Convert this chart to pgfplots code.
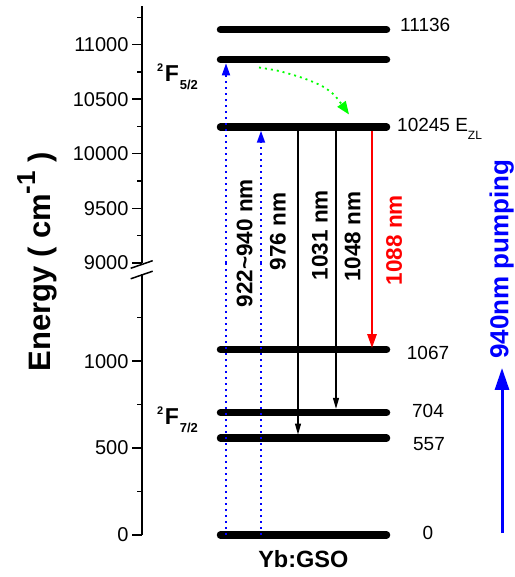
\documentclass[border=0pt]{standalone}
\usepackage{fontspec}
\setmainfont{Liberation Sans}
\usepackage{pgfplots}
\pgfplotsset{compat=1.18}
\usetikzlibrary{arrows.meta}
\pgfplotsset{
  lvl/.style={
    scale only axis, width=372pt, xmin=142, xmax=514,
    axis x line=none, axis y line*=left, clip=false,
    y axis line style={line width=2pt, black},
    major tick length=10pt, minor tick length=5pt, tick align=outside,
    tick style={black, line width=1.4pt},
    scaled y ticks=false,
    yticklabel style={font=\fontsize{20}{23}\selectfont,
      /pgf/number format/assume math mode=true,
      /pgf/number format/1000 sep={}},
  },
  level/.style={black, line width=7.5pt, line cap=round},
  pump/.style={blue, line width=1.8pt, dash pattern=on 2pt off 4pt},
}
\begin{document}
\begin{tikzpicture}
\useasboundingbox (0pt,0pt) rectangle (514pt,577pt);
% upper part
\begin{axis}[lvl, at={(142pt,314pt)}, anchor=south west, height=257.2pt,
  ymin=9000, ymax=11355, ytick={9000,9500,10000,10500,11000},
  minor ytick={9250,9750,10250,10750,11250}]
  \addplot[level] coordinates {(220.5,11136) (386.5,11136)};
  \addplot[level] coordinates {(220.5,10862) (386.5,10862)};
  \addplot[level] coordinates {(220.5,10245) (386.5,10245)};
  \addplot[pump, -{Triangle[length=12pt,width=8pt]}] coordinates {(226,9000) (226,10828)};
  \addplot[pump, -{Triangle[length=12pt,width=8pt]}] coordinates {(261,9000) (261,10211)};
  \addplot[black, line width=1.2pt] coordinates {(298,10211) (298,9000)};
  \addplot[black, line width=1.2pt] coordinates {(336,10211) (336,9000)};
  \addplot[red, line width=2.5pt] coordinates {(372,10211) (372,9000)};
  \addplot[green, line width=1.8pt, dash pattern=on 2pt off 4pt, smooth, -{Triangle[length=13pt,width=10pt]}]
    coordinates {(259,10790) (277,10762) (292,10725) (307,10680) (323,10615) (335,10530) (349,10360)};
\end{axis}
% lower part
\begin{axis}[lvl, at={(142pt,42pt)}, anchor=south west, height=260.7pt,
  ymin=0, ymax=1500, ytick={0,500,1000}, minor ytick={250,750,1250}]
  \addplot[level] coordinates {(220.5,1067) (386.5,1067)};
  \addplot[level] coordinates {(220.5,704) (386.5,704)};
  \addplot[level] coordinates {(220.5,557) (386.5,557)};
  \addplot[level] coordinates {(220.5,0) (386.5,0)};
  \addplot[pump] coordinates {(226,0) (226,1565)};
  \addplot[pump] coordinates {(261,0) (261,1565)};
  \addplot[black, line width=1.2pt, -{Triangle[length=11pt,width=6pt]}] coordinates {(298,1565) (298,578)};
  \addplot[black, line width=1.2pt, -{Triangle[length=11pt,width=6pt]}] coordinates {(336,1565) (336,726)};
  \addplot[red, line width=2.5pt, -{Triangle[length=14pt,width=9pt]}] coordinates {(372,1565) (372,1075)};
  \addplot[blue, line width=3pt, -{Triangle[length=22pt,width=14pt]}] coordinates {(502,11) (502,961)};
\end{axis}
% axis break marks
\draw[line width=1.5pt] (130.7pt,308.7pt) -- (152.7pt,316.3pt);
\draw[line width=1.5pt] (130.7pt,298.2pt) -- (152.7pt,305.8pt);
% y label
\node[rotate=90, anchor=base west, inner sep=0pt, font=\bfseries\fontsize{31}{36}\selectfont]
  at (50pt,205.3pt) {Energy ( cm\raisebox{15pt}{\fontsize{26}{30}\selectfont -1} )};
% term labels
\node[anchor=base west, inner sep=0pt, font=\bfseries\fontsize{23}{26}\selectfont] at (157pt,495.3pt)
  {\raisebox{10pt}{\fontsize{11}{13}\selectfont 2}\hspace{1.5pt}F\hspace{1pt}\raisebox{-7.6pt}{\fontsize{13}{15}\selectfont 5/2}};
\node[anchor=base west, inner sep=0pt, font=\bfseries\fontsize{23}{26}\selectfont] at (157pt,152pt)
  {\raisebox{10pt}{\fontsize{11}{13}\selectfont 2}\hspace{1.5pt}F\hspace{1pt}\raisebox{-7.6pt}{\fontsize{13}{15}\selectfont 7/2}};
% level labels
\node[anchor=base west, inner sep=0pt, font=\fontsize{19}{22}\selectfont] at (400pt,545.3pt) {11136};
\node[anchor=base west, inner sep=0pt, font=\fontsize{19}{22}\selectfont] at (397pt,445.3pt)
  {10245 E\raisebox{-8pt}{\fontsize{12}{14}\selectfont ZL}};
\node[anchor=base, inner sep=0pt, font=\fontsize{19}{22}\selectfont] at (428pt,217pt) {1067};
\node[anchor=base, inner sep=0pt, font=\fontsize{19}{22}\selectfont] at (428pt,159.7pt) {704};
\node[anchor=base, inner sep=0pt, font=\fontsize{19}{22}\selectfont] at (429pt,126.3pt) {557};
\node[anchor=base, inner sep=0pt, font=\fontsize{19}{22}\selectfont] at (428pt,37.7pt) {0};
% transition labels
\node[rotate=90, inner sep=0pt, font=\bfseries\fontsize{22.5}{26}\selectfont] at (244.7pt,333.7pt) {922\textasciitilde 940 nm};
\node[rotate=90, inner sep=0pt, font=\bfseries\fontsize{22.5}{26}\selectfont] at (277.8pt,345.3pt) {976 nm};
\node[rotate=90, inner sep=0pt, font=\bfseries\fontsize{22.5}{26}\selectfont] at (320pt,342pt) {1031 nm};
\node[rotate=90, inner sep=0pt, font=\bfseries\fontsize{22.5}{26}\selectfont] at (352.5pt,340.3pt) {1048 nm};
\node[rotate=90, inner sep=0pt, text=red, font=\bfseries\fontsize{22.5}{26}\selectfont] at (394pt,337pt) {1088 nm};
\node[rotate=90, inner sep=0pt, text=blue, font=\bfseries\fontsize{26}{30}\selectfont] at (501.7pt,318pt) {940nm pumping};
\node[inner sep=0pt, font=\bfseries\fontsize{23.5}{27}\selectfont] at (303.3pt,18pt) {Yb:GSO};
\end{tikzpicture}
\end{document}
